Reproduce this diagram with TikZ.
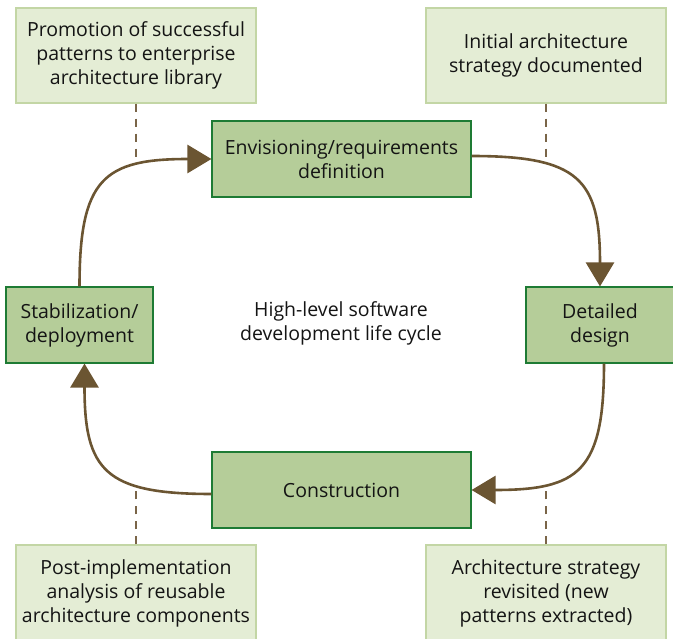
\documentclass[tikz,border=0pt]{standalone}
\usepackage{fontspec}
\setmainfont{Open Sans}
\usetikzlibrary{arrows.meta}
\definecolor{boxfill}{HTML}{B5CD99}
\definecolor{boxline}{HTML}{1E7B34}
\definecolor{notefill}{HTML}{E4EDD5}
\definecolor{noteline}{HTML}{C3D6A5}
\definecolor{arrowc}{HTML}{6B5532}
\definecolor{dashc}{HTML}{7A6548}
\definecolor{txt}{HTML}{141414}
\tikzset{
  stage/.style={draw=boxline, line width=1.1pt, fill=boxfill, align=center, text=txt,
    font=\fontsize{19.5}{24}\selectfont, inner sep=0pt},
  note/.style={draw=noteline, line width=1.1pt, fill=notefill, align=center, text=txt,
    font=\fontsize{19.5}{24}\selectfont, inner sep=0pt, minimum width=240pt},
  flow/.style={draw=arrowc, line width=2.6pt, -{Triangle[length=24pt,width=28pt]}},
  dashline/.style={draw=dashc, line width=1.4pt, dash pattern=on 8pt off 7pt},
}
\begin{document}
\begin{tikzpicture}[x=1pt,y=-1pt]
\useasboundingbox (0,0) rectangle (673,639);
% notes
\node[note, minimum height=95pt] (noteTL) at (136,55.5) {Promotion of successful\\patterns to enterprise\\architecture library};
\node[note, minimum height=95pt] (noteTR) at (546,55.5) {Initial architecture\\strategy documented};
\node[note, minimum height=96pt] (noteBL) at (136,593) {Post-implementation\\analysis of reusable\\architecture components};
\node[note, minimum height=96pt] (noteBR) at (546,593) {Architecture strategy\\revisited (new\\patterns extracted)};
% stages
\node[stage, minimum width=259pt, minimum height=76pt] (env) at (341.5,159) {Envisioning/requirements\\definition};
\node[stage, minimum width=148pt, minimum height=76pt] (det) at (600,325) {Detailed\\design};
\node[stage, minimum width=147pt, minimum height=76pt] (stab) at (79.5,325) {Stabilization/\\deployment};
\node[stage, minimum width=259pt, minimum height=76pt] (con) at (341.5,490) {Construction};
% center text
\node[align=center, text=txt, font=\fontsize{19.5}{24}\selectfont] (center) at (341,323) {High-level software\\development life cycle};
% coordinates where dashed lines meet curves
\coordinate (dTL) at (136,165);
\coordinate (dTR) at (546,157);
\coordinate (dBL) at (136,488);
\coordinate (dBR) at (546,488);
% dashed lines
\draw[dashline] (noteTL.south) -- (dTL);
\draw[dashline] (noteTR.south) -- (dTR);
\draw[dashline] (noteBL.north) -- (dBL);
\draw[dashline] (noteBR.north) -- (dBR);
% flow arrows
\draw[flow] (stab.north) to[out=90,in=180,looseness=1.5] (env.west);
\draw[flow] ([yshift=3pt]env.east) to[out=0,in=90,looseness=1.5] (det.north);
\draw[flow] ([xshift=4pt]det.south) to[out=-90,in=0,looseness=1.5] (con.east);
\draw[flow] ([yshift=-4pt]con.west) to[out=180,in=-90,looseness=1.5] ([xshift=5pt]stab.south);
\end{tikzpicture}
\end{document}
